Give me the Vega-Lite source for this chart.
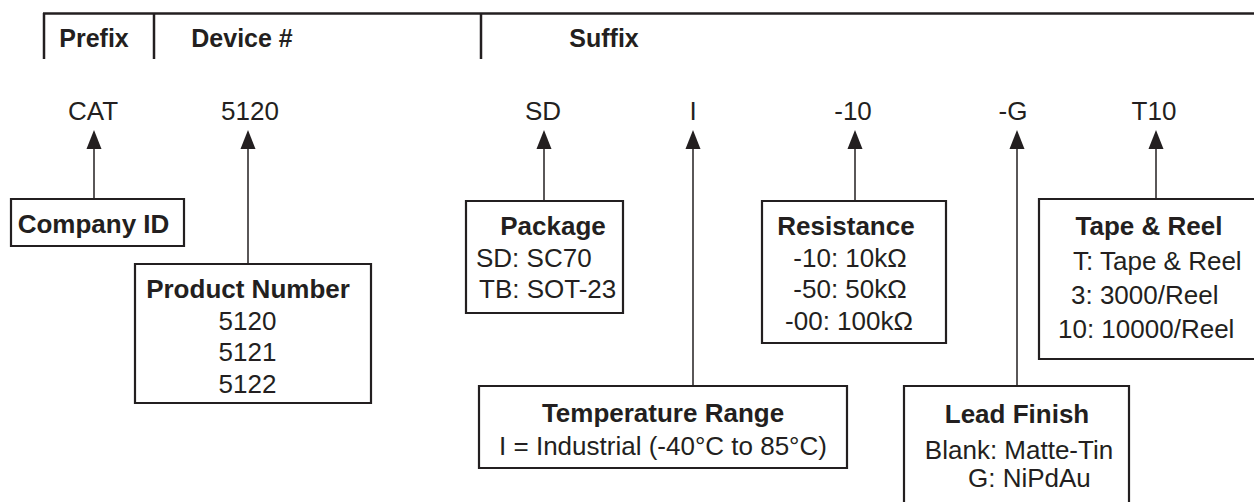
{
  "$schema": "https://vega.github.io/schema/vega-lite/v6.json",
  "width": 1254,
  "height": 502,
  "autosize": "none",
  "padding": 0,
  "background": "white",
  "config": {"view": {"stroke": null}},
  "datasets": {
    "frame": [
      {"x": 43, "x2": 1256, "y": 13.5, "y2": 13.5},
      {"x": 44, "x2": 44, "y": 13, "y2": 59},
      {"x": 154, "x2": 154, "y": 13, "y2": 59},
      {"x": 481, "x2": 481, "y": 13, "y2": 59}
    ],
    "leaders": [
      {"x": 94, "y": 147, "y2": 199},
      {"x": 248, "y": 147, "y2": 264},
      {"x": 544, "y": 147, "y2": 201},
      {"x": 693, "y": 147, "y2": 386},
      {"x": 855, "y": 147, "y2": 201},
      {"x": 1017, "y": 147, "y2": 386},
      {"x": 1156, "y": 147, "y2": 199}
    ],
    "arrows": [
      {"x": 94, "y": 139.5},
      {"x": 248, "y": 139.5},
      {"x": 544, "y": 139.5},
      {"x": 693, "y": 139.5},
      {"x": 855, "y": 139.5},
      {"x": 1017, "y": 139.5},
      {"x": 1156, "y": 139.5}
    ],
    "boxes": [
      {"box": "Company ID", "x": 11, "x2": 184, "y": 199, "y2": 246},
      {"box": "Product Number", "x": 135, "x2": 371, "y": 264, "y2": 403},
      {"box": "Package", "x": 466, "x2": 623, "y": 201, "y2": 313},
      {"box": "Temperature Range", "x": 479, "x2": 847, "y": 386, "y2": 468},
      {"box": "Resistance", "x": 762, "x2": 946, "y": 201, "y2": 343},
      {"box": "Lead Finish", "x": 904, "x2": 1129, "y": 386, "y2": 510},
      {"box": "Tape & Reel", "x": 1039, "x2": 1262, "y": 199, "y2": 359}
    ],
    "header": [
      {"label": "Prefix", "x": 94, "y": 47},
      {"label": "Device #", "x": 242, "y": 47},
      {"label": "Suffix", "x": 604, "y": 47}
    ],
    "codes": [
      {"label": "CAT", "x": 93, "y": 120},
      {"label": "5120", "x": 250, "y": 120},
      {"label": "SD", "x": 543, "y": 120},
      {"label": "I", "x": 693, "y": 120},
      {"label": "-10", "x": 853, "y": 120},
      {"label": "-G", "x": 1013, "y": 120},
      {"label": "T10", "x": 1154, "y": 120}
    ],
    "titles": [
      {"label": "Company ID", "x": 93.5, "y": 233},
      {"label": "Product Number", "x": 248, "y": 298},
      {"label": "Package", "x": 553, "y": 235},
      {"label": "Temperature Range", "x": 663, "y": 422},
      {"label": "Resistance", "x": 846, "y": 235},
      {"label": "Lead Finish", "x": 1017, "y": 423},
      {"label": "Tape & Reel", "x": 1149, "y": 235}
    ],
    "bodyCenter": [
      {"label": "5120", "x": 247.5, "y": 330},
      {"label": "5121", "x": 247.5, "y": 361},
      {"label": "5122", "x": 247.5, "y": 393},
      {"label": "-10: 10kΩ", "x": 850, "y": 267},
      {"label": "-50: 50kΩ", "x": 850, "y": 298},
      {"label": "-00: 100kΩ", "x": 849, "y": 330},
      {"label": "I = Industrial (-40°C to 85°C)", "x": 663, "y": 455},
      {"label": "Blank: Matte-Tin", "x": 1019, "y": 459}
    ],
    "bodyLeft": [
      {"label": "SD: SC70", "x": 476, "y": 267},
      {"label": "TB: SOT-23", "x": 479, "y": 298},
      {"label": "T: Tape & Reel", "x": 1073, "y": 270},
      {"label": "3: 3000/Reel", "x": 1071, "y": 304},
      {"label": "10: 10000/Reel", "x": 1058, "y": 338},
      {"label": "G: NiPdAu", "x": 968, "y": 487}
    ]
  },
  "layer": [
    {
      "data": {"name": "frame"},
      "mark": {"type": "rule", "color": "#231f20", "strokeWidth": 2.5},
      "encoding": {
        "x": {"field": "x", "type": "quantitative", "scale": {"domain": [0, 1254], "nice": false, "zero": false}, "axis": null},
        "x2": {"field": "x2"},
        "y": {"field": "y", "type": "quantitative", "scale": {"domain": [0, 502], "nice": false, "zero": false, "reverse": true}, "axis": null},
        "y2": {"field": "y2"}
      }
    },
    {
      "data": {"name": "leaders"},
      "mark": {"type": "rule", "color": "#231f20", "strokeWidth": 1.5},
      "encoding": {
        "x": {"field": "x", "type": "quantitative", "axis": null},
        "y": {"field": "y", "type": "quantitative", "axis": null},
        "y2": {"field": "y2"}
      }
    },
    {
      "data": {"name": "boxes"},
      "mark": {"type": "rect", "fill": "white", "stroke": "#231f20", "strokeWidth": 2.2, "clip": true},
      "encoding": {
        "x": {"field": "x", "type": "quantitative", "axis": null},
        "x2": {"field": "x2"},
        "y": {"field": "y", "type": "quantitative", "axis": null},
        "y2": {"field": "y2"}
      }
    },
    {
      "data": {"name": "arrows"},
      "mark": {"type": "point", "shape": "M0,-1L-0.79,1L0.79,1Z", "size": 361, "filled": true, "color": "#231f20", "opacity": 1, "strokeWidth": 0},
      "encoding": {
        "x": {"field": "x", "type": "quantitative", "axis": null},
        "y": {"field": "y", "type": "quantitative", "axis": null}
      }
    },
    {
      "data": {"name": "header"},
      "mark": {"type": "text", "font": "Liberation Sans", "fontWeight": "bold", "fontSize": 25, "align": "center", "baseline": "alphabetic", "color": "#231f20"},
      "encoding": {
        "x": {"field": "x", "type": "quantitative", "axis": null},
        "y": {"field": "y", "type": "quantitative", "axis": null},
        "text": {"field": "label"}
      }
    },
    {
      "data": {"name": "codes"},
      "mark": {"type": "text", "font": "Liberation Sans", "fontSize": 26, "align": "center", "baseline": "alphabetic", "color": "#231f20"},
      "encoding": {
        "x": {"field": "x", "type": "quantitative", "axis": null},
        "y": {"field": "y", "type": "quantitative", "axis": null},
        "text": {"field": "label"}
      }
    },
    {
      "data": {"name": "titles"},
      "mark": {"type": "text", "font": "Liberation Sans", "fontWeight": "bold", "fontSize": 26, "align": "center", "baseline": "alphabetic", "color": "#231f20"},
      "encoding": {
        "x": {"field": "x", "type": "quantitative", "axis": null},
        "y": {"field": "y", "type": "quantitative", "axis": null},
        "text": {"field": "label"}
      }
    },
    {
      "data": {"name": "bodyCenter"},
      "mark": {"type": "text", "font": "Liberation Sans", "fontSize": 26, "align": "center", "baseline": "alphabetic", "color": "#231f20"},
      "encoding": {
        "x": {"field": "x", "type": "quantitative", "axis": null},
        "y": {"field": "y", "type": "quantitative", "axis": null},
        "text": {"field": "label"}
      }
    },
    {
      "data": {"name": "bodyLeft"},
      "mark": {"type": "text", "font": "Liberation Sans", "fontSize": 26, "align": "left", "baseline": "alphabetic", "color": "#231f20"},
      "encoding": {
        "x": {"field": "x", "type": "quantitative", "axis": null},
        "y": {"field": "y", "type": "quantitative", "axis": null},
        "text": {"field": "label"}
      }
    }
  ]
}
